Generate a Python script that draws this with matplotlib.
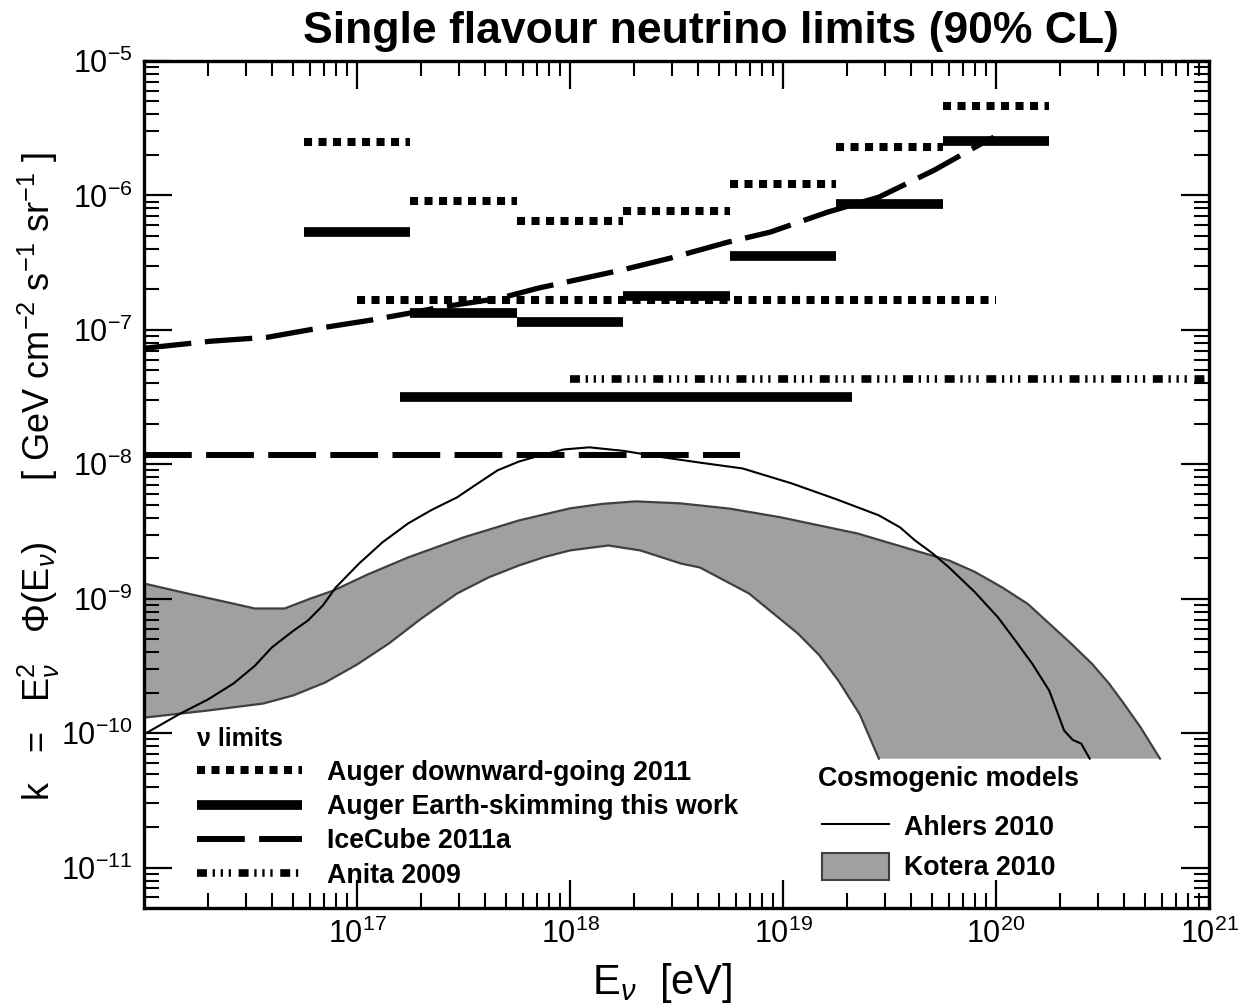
import numpy as np
import matplotlib
matplotlib.use("Agg")
import matplotlib.pyplot as plt
from matplotlib.lines import Line2D
from matplotlib.patches import Patch
from matplotlib.ticker import LogLocator, NullFormatter, FixedLocator, LogFormatterMathtext

plt.rcParams['font.family'] = ['Liberation Sans', 'DejaVu Sans']
plt.rcParams['mathtext.fontset'] = 'custom'
plt.rcParams['mathtext.rm'] = 'Liberation Sans'
plt.rcParams['mathtext.it'] = 'Liberation Sans:italic'
plt.rcParams['mathtext.bf'] = 'Liberation Sans:bold'
plt.rcParams['axes.unicode_minus'] = False

# ---------------- data ----------------
bin_edges_log = [16.75, 17.25, 17.75, 18.25, 18.75, 19.25, 19.75, 20.25]
downgoing_diff = [2.49e-6, 9.1e-7, 6.5e-7, 7.6e-7, 1.21e-6, 2.29e-6, 4.65e-6]
skimming_diff = [5.35e-7, 1.33e-7, 1.14e-7, 1.78e-7, 3.55e-7, 8.6e-7, 2.53e-6]

downgoing_int_range = [1e17, 1e20]
downgoing_int = 1.68e-7
skimming_int_range = [1.6e17, 2.1e19]
skimming_int = 3.18e-8
icecube_int_range = [1e16, 6.3e18]
icecube_int = 1.18e-8
anita_range = [1e18, 1e21]
anita_int = 4.3e-8

icecube_diff_logE = [16.0, 16.31, 16.58, 16.79, 17.06, 17.25, 17.39, 17.67, 17.85, 18.24,
                     18.47, 18.74, 18.94, 19.21, 19.45, 19.71, 19.92, 19.99]
icecube_diff_logk = [-7.137, -7.085, -7.055, -6.996, -6.929, -6.875, -6.832, -6.765, -6.690, -6.556,
                     -6.467, -6.348, -6.273, -6.124, -6.013, -5.812, -5.625, -5.566]

ahlers_logE = [16.01, 16.17, 16.30, 16.42, 16.52, 16.60, 16.70, 16.77, 16.84, 16.90, 17.01,
               17.12, 17.24, 17.35, 17.47, 17.56, 17.66, 17.76, 17.86, 17.97, 18.09, 18.25,
               18.44, 18.62, 18.81, 19.04, 19.25, 19.45, 19.55, 19.62, 19.70, 19.78, 19.90,
               20.01, 20.09, 20.17, 20.25, 20.32, 20.36, 20.40, 20.44]
ahlers_logk = [-10.00, -9.855, -9.75, -9.631, -9.50, -9.363, -9.24, -9.162, -9.05, -8.917, -8.738,
               -8.58, -8.440, -8.34, -8.246, -8.15, -8.045, -7.98, -7.934, -7.89, -7.874, -7.90,
               -7.949, -7.99, -8.031, -8.142, -8.26, -8.380, -8.47, -8.567, -8.66, -8.768, -8.95,
               -9.140, -9.31, -9.483, -9.684, -9.981, -10.05, -10.078, -10.190]

kotera_up_logE = [16.0, 16.2, 16.4, 16.52, 16.66, 16.78, 16.89, 17.05, 17.24, 17.50, 17.76,
                  18.00, 18.15, 18.31, 18.52, 18.75, 18.99, 19.35, 19.65, 19.78, 19.90, 20.03,
                  20.15, 20.25, 20.35, 20.45, 20.53, 20.60, 20.68, 20.77]
kotera_up_logk = [-8.887, -8.96, -9.03, -9.073, -9.073, -9.00, -8.939, -8.82, -8.693, -8.544,
                  -8.418, -8.328, -8.295, -8.276, -8.291, -8.33, -8.395, -8.515, -8.656, -8.716,
                  -8.80, -8.917, -9.04, -9.185, -9.33, -9.483, -9.63, -9.780, -9.96, -10.190]
kotera_lo_logE = [16.0, 16.30, 16.56, 16.70, 16.85, 17.0, 17.15, 17.30, 17.47, 17.62, 17.76,
                  17.88, 18.00, 18.18, 18.33, 18.52, 18.61, 18.84, 19.07, 19.17, 19.26, 19.36, 19.45]
kotera_lo_logk = [-9.885, -9.832, -9.780, -9.72, -9.624, -9.49, -9.333, -9.15, -8.961, -8.84,
                  -8.753, -8.69, -8.641, -8.604, -8.641, -8.738, -8.768, -8.961, -9.259, -9.42,
                  -9.609, -9.86, -10.190]

x_ticks = [1e17, 1e18, 1e19, 1e20, 1e21]
y_ticks = [1e-11, 1e-10, 1e-9, 1e-8, 1e-7, 1e-6, 1e-5]

# ---------------- styles ----------------
DG = dict(color='black', lw=5.8, dashes=(1.0, 0.8), solid_capstyle='butt', dash_capstyle='butt')
ES = dict(color='black', lw=7.0, solid_capstyle='butt')
IC = dict(color='black', lw=4.3, dashes=(8.0, 2.4), dash_capstyle='butt')
ICD = dict(color='black', lw=3.8, dashes=(9.0, 2.6), dash_capstyle='butt')
AN = dict(color='black', lw=5.5, dashes=(1.3, 0.75, 0.3, 0.75, 0.3, 0.75, 0.3, 1.0),
          dash_capstyle='butt')
GRAY = '#a0a0a0'
EDGE = '#404040'

fig = plt.figure(figsize=(12.38, 10.07), dpi=100)
ax = fig.add_axes([144 / 1238, 1 - 908 / 1007, 1065 / 1238, 847 / 1007])

# Kotera band
up_E = 10 ** np.array(kotera_up_logE)
up_k = 10 ** np.array(kotera_up_logk)
lo_E = 10 ** np.array(kotera_lo_logE)
lo_k = 10 ** np.array(kotera_lo_logk)
poly_E = np.concatenate([up_E, lo_E[::-1]])
poly_k = np.concatenate([up_k, lo_k[::-1]])
ax.fill(poly_E, poly_k, color=GRAY, lw=0, zorder=1)
ax.plot(up_E, up_k, color=EDGE, lw=1.6, zorder=2)
ax.plot(lo_E, lo_k, color=EDGE, lw=1.6, zorder=2)

# Ahlers
ax.plot(10 ** np.array(ahlers_logE), 10 ** np.array(ahlers_logk), color='black', lw=1.5, zorder=3)

# IceCube
ax.plot(icecube_int_range, [icecube_int, icecube_int], zorder=4, **IC)
ax.plot(10 ** np.array(icecube_diff_logE), 10 ** np.array(icecube_diff_logk), zorder=4, **ICD)

# Auger downward-going
for i, v in enumerate(downgoing_diff):
    ax.plot([10 ** bin_edges_log[i], 10 ** bin_edges_log[i + 1]], [v, v], zorder=5, **DG)
ax.plot(downgoing_int_range, [downgoing_int, downgoing_int], zorder=5, **DG)

# Auger Earth-skimming
for i, v in enumerate(skimming_diff):
    ax.plot([10 ** bin_edges_log[i], 10 ** bin_edges_log[i + 1]], [v, v], zorder=6, **ES)
ax.plot(skimming_int_range, [skimming_int, skimming_int], zorder=6, **ES)

# Anita
ax.plot(anita_range, [anita_int, anita_int], zorder=5, **AN)

ax.set_xscale('log')
ax.set_yscale('log')
ax.set_xlim(1e16, 1e21)
ax.set_ylim(5e-12, 1e-5)

ax.xaxis.set_major_locator(FixedLocator(x_ticks))
ax.xaxis.set_major_formatter(LogFormatterMathtext())
ax.xaxis.set_minor_locator(LogLocator(base=10, subs=np.arange(2, 10), numticks=50))
ax.xaxis.set_minor_formatter(NullFormatter())
ax.yaxis.set_major_locator(FixedLocator(y_ticks))
ax.yaxis.set_major_formatter(LogFormatterMathtext())
ax.yaxis.set_minor_locator(LogLocator(base=10, subs=np.arange(2, 10), numticks=50))
ax.yaxis.set_minor_formatter(NullFormatter())

ax.tick_params(which='both', direction='in', top=True, right=True)
ax.tick_params(which='major', length=20, width=1.6, labelsize=22, pad=8)
ax.tick_params(which='minor', length=10.5, width=1.5)
for s in ax.spines.values():
    s.set_linewidth(2.4)

ax.set_xlabel(r'E$_{\nu}$  [eV]', fontsize=30)
ax.xaxis.set_label_coords(0.486, -0.063)
ax.set_ylabel(r'k   =   E$_{\nu}^{2}$   $\Phi$(E$_{\nu}$)      [ GeV cm$^{-2}$ s$^{-1}$ sr$^{-1}$ ]',
              fontsize=26)
ax.yaxis.set_label_coords(-0.077, 0.51)

fig.text(711 / 1238, 1 - 31 / 1007, 'Single flavour neutrino limits (90% CL)',
         ha='center', va='center', fontsize=32, fontweight='bold')

# Legends
bold = dict(weight='bold', size=19.3)
h1 = [Line2D([], [], **DG), Line2D([], [], **ES), Line2D([], [], **IC), Line2D([], [], **AN)]
l1 = ['Auger downward-going 2011', 'Auger Earth-skimming this work', 'IceCube 2011a', 'Anita 2009']
leg1 = ax.legend(h1, l1, loc='upper left', bbox_to_anchor=(0.050, 0.2133), frameon=False,
                 prop=bold, title='\u03bd limits', title_fontproperties=dict(weight='bold', size=18),
                 alignment='left', handlelength=3.9, handletextpad=0.95, labelspacing=0.31,
                 borderpad=0, borderaxespad=0)
ax.add_artist(leg1)

ax.text(818 / 1065 - 144 / 1065, (908 - 779) / 847, 'Cosmogenic models', transform=ax.transAxes,
        ha='left', va='center', fontsize=19.3, fontweight='bold')
h2 = [Line2D([], [], color='black', lw=1.5), Patch(facecolor=GRAY, edgecolor=EDGE, lw=1.5)]
l2 = ['Ahlers 2010', 'Kotera 2010']
leg2 = ax.legend(h2, l2, loc='upper left', bbox_to_anchor=(0.637, 0.1128), frameon=False,
                 prop=bold, alignment='left', handlelength=2.5, handleheight=1.15, handletextpad=0.55,
                 labelspacing=0.45, borderpad=0, borderaxespad=0)

fig.savefig('out.png', dpi=100)
